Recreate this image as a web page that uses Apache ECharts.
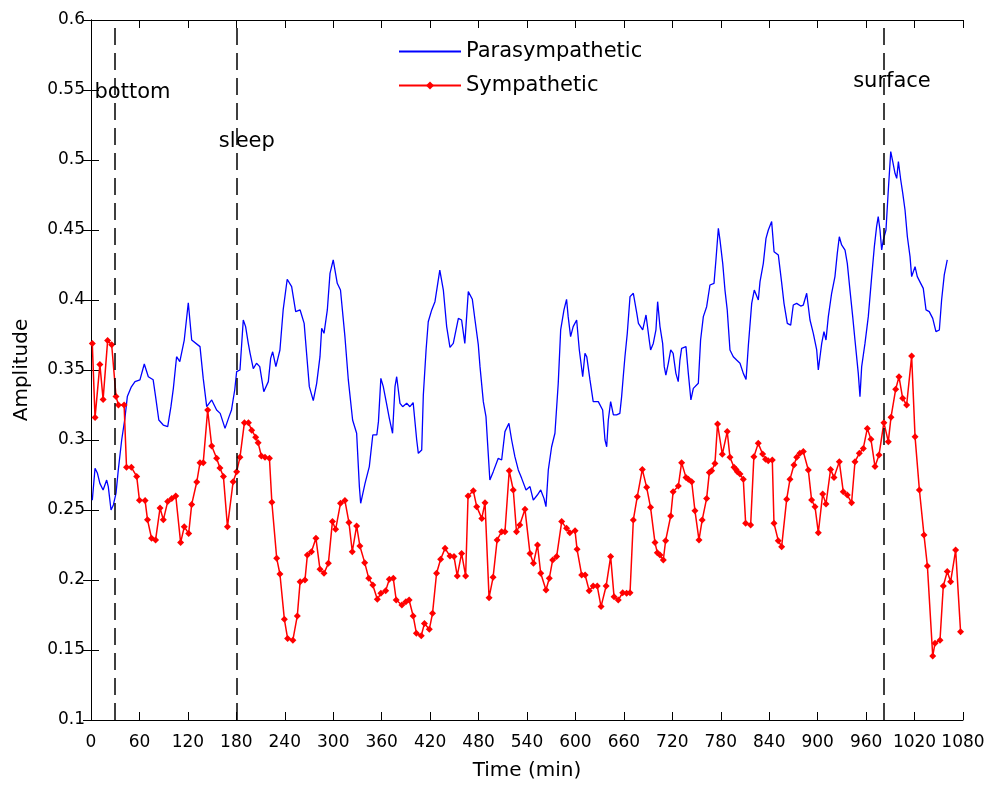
<!DOCTYPE html>
<html>
<head>
<meta charset="utf-8">
<script src="https://cdn.jsdelivr.net/npm/echarts@6/dist/echarts.min.js"></script>
<style>html,body{margin:0;padding:0;background:#fff;overflow:hidden;}#chart{width:984px;height:785px;}</style>
</head>
<body>
<div id="chart"></div>
<script>
// Time axis ticks
const xTicks = [0,60,120,180,240,300,360,420,480,540,600,660,720,780,840,900,960,1020,1080];

// Parasympathetic (blue) – time (min) and amplitude
const paraTime = [1.6,5,8,11,15,19.4,21.4,24.8,27.7,31,33.8,38,42,45,50,54.5,60.6,66,71,77,80,84,89.5,95,99,102,106,110,115.5,120.5,124.7,135,139,143.3,149.5,155.6,160,166,171,174,176,178,180.4,184.5,188.6,191.5,194.8,197,201,205,209,214,219.6,222.5,225,229,234,238,243,248.5,253.5,259,264,267,270.4,275.3,279.5,283.6,285.7,288.6,292.7,296,300,305,309,314.5,318.7,324,329,332.4,334,339.4,344.7,349,354,356,359,362,366,369.5,373.5,376.5,378.6,382.7,386,391,395,399,403.4,405.4,409.6,411.6,415,417.7,422,426,432,436.4,440.5,444.6,448.7,455,459,463,467.3,472.3,475.6,479.7,481.8,485.9,489.2,491.2,494,498.2,504.4,508.6,512.7,517.6,521,525,529.2,533.4,538.8,543.7,547.8,552.8,557,561,563.5,566.4,570.5,574.6,578.7,581.7,585.8,589,591,594,597.2,601.5,604.8,609,611.8,614,618,622,628.3,633.7,636.6,638.7,640.7,643.6,647,651,655,657.2,659.2,661.3,664.2,667.6,671.7,676,678,683.3,687.4,689,691.4,693.1,696.4,699.7,701.8,704.7,708,710,712,715,718,721,724.4,727.3,729.4,731.5,736.9,739.8,743,746,752.2,755,758.4,762.5,766.6,771.6,774,777,779,782.4,785.2,788,791.4,795.5,799.6,803.8,807.9,811.3,814.2,818.3,821.5,826.5,828.6,832.7,836,838.9,843,846,851.3,855.5,858.3,862.4,866.6,869.8,874,879,882.2,886.4,890.5,894.6,898.8,900.8,905,907.8,910.3,913.2,917.3,921.4,924.3,926.8,929.7,933.9,936.7,940,943.4,946.2,950.3,952.4,954.5,958.6,962.7,966.9,970.2,973,975,977.2,979.3,981.3,984.6,987.5,990.5,993,995.8,997.9,1000,1002.9,1005.4,1008.2,1011.1,1014.4,1016.4,1020.6,1023.4,1027.6,1030.8,1034.2,1038.2,1042.5,1046.5,1050.7,1053.5,1056.8,1060.5];
const paraValue = [.257,.2798,.2762,.269,.2643,.2714,.2667,.25,.2536,.262,.2786,.30,.3155,.331,.338,.3417,.343,.3543,.3452,.343,.331,.3143,.3107,.3095,.3238,.3369,.3595,.356,.3714,.398,.3714,.3667,.344,.3238,.3286,.3214,.319,.3083,.3167,.3214,.3286,.3357,.3488,.35,.3857,.381,.369,.362,.351,.3548,.3524,.3345,.3417,.3583,.363,.3524,.3643,.3929,.4148,.4095,.3917,.3929,.3833,.362,.3381,.3281,.3405,.3595,.3798,.3762,.3929,.419,.4286,.4119,.4071,.3738,.3429,.3143,.3048,.2667,.2548,.269,.281,.3036,.3036,.3131,.344,.3381,.3262,.3155,.3048,.3381,.3452,.3262,.3238,.3262,.3238,.3267,.30,.2905,.2929,.3321,.3643,.3845,.3929,.3988,.4214,.4071,.381,.3662,.369,.3869,.3857,.369,.406,.4005,.3857,.3679,.3524,.3274,.3167,.2976,.2714,.2774,.2869,.2857,.306,.3119,.30,.2881,.2786,.2726,.2643,.2667,.2571,.2607,.2643,.2583,.2524,.2786,.2952,.3048,.3405,.3786,.3929,.4005,.3881,.3738,.381,.3857,.3643,.3452,.3619,.3595,.3429,.3274,.3274,.3214,.30,.2952,.3143,.3274,.3179,.3179,.319,.331,.3452,.3595,.3762,.4024,.4048,.3905,.3833,.3786,.3893,.3905,.3714,.3643,.369,.3786,.3988,.381,.369,.3524,.3464,.3548,.3643,.3619,.3476,.3417,.3571,.3655,.3667,.3476,.3286,.3369,.3405,.3714,.3881,.3952,.4107,.4119,.4286,.4512,.4429,.4262,.4071,.3929,.3643,.3595,.3571,.3548,.3476,.3433,.3679,.3976,.4071,.40,.4131,.4262,.444,.45,.456,.4345,.4321,.4119,.3976,.3833,.3821,.3964,.3976,.3957,.3964,.4048,.3857,.3762,.3643,.35,.369,.3774,.3714,.3881,.4048,.4167,.4333,.4452,.4393,.4357,.4262,.4071,.3881,.3714,.3476,.331,.3524,.369,.3881,.4167,.4381,.4524,.4595,.45,.4357,.4429,.45,.4786,.506,.4988,.4905,.4869,.4988,.4857,.4762,.4643,.4452,.431,.4167,.4238,.4167,.4119,.4083,.3929,.3917,.3869,.3774,.3786,.40,.4179,.4286];

// Sympathetic (red) – time (min) and amplitude
const sympTime = [1.6,5,11,15,20.6,25.6,31,34,41,44,50,56.6,60,67,70,75,80,85.5,89.6,95,100,105,111,115.5,121,124.7,131,135,139,144.5,149.5,155.6,159.7,164,169,176,180.4,184.5,190,195,199,204,207,211,215.5,221,224,230,234,239.5,243.5,250,255.5,259,265,268,273,278.6,283.6,288.6,294,299,303,309,314.5,319.5,323.6,329,333,339,344,349,354.6,359,365,369.5,374.4,378,385,390,394,399,403,409,413,419,423,428,433,438.5,444.6,449.6,453.6,459,464,467,473.5,477.7,484,488,493,498,503,508.6,512.7,518,523,527,531,537.5,543.7,548,553,557,563.5,567.6,571.8,576.7,583,589,593,599.5,602,607.7,612,617,622,627,631.7,638,643.6,647.8,653,658.5,663.4,667.6,671.7,676.6,682.8,688.2,693,698.5,701.4,704.7,708.8,711.7,718,721,727.4,731.5,736.9,739.8,744,748,753,757,762.5,765.8,768.7,772.8,776,781.9,788,791.4,796.4,798.9,800.5,803.8,807.9,810.8,817,821,826.4,831.8,835.5,838.8,843.8,845.9,851.2,855.4,861.6,865.7,870.6,874,878,882.2,888.4,892.5,896.7,900.8,906.2,910.3,916,920.2,926.8,931.7,936.7,942,946.2,951.6,956.5,961.5,966,971,976,982,987.5,990.8,996.6,1000.7,1005.3,1010.2,1016.4,1020.6,1026,1031.7,1035.9,1042.5,1045.3,1051.5,1055.6,1060.5,1064.7,1070.9,1077];
const sympValue = [.369,.316,.354,.329,.371,.368,.331,.325,.325,.2805,.2805,.274,.257,.2567,.243,.2298,.2286,.2514,.243,.256,.2583,.26,.2267,.238,.2333,.254,.270,.2838,.2838,.3214,.2957,.287,.280,.274,.238,.2702,.2774,.2876,.3124,.3124,.307,.302,.298,.2886,.2876,.287,.2555,.2155,.2043,.1719,.1583,.157,.1743,.1988,.200,.2179,.2202,.2298,.2076,.2048,.2119,.2417,.2362,.2548,.2567,.241,.2202,.2386,.2243,.2124,.2012,.1964,.1862,.1905,.1924,.2005,.2012,.1857,.1821,.1845,.1857,.1743,.162,.1602,.169,.1648,.1762,.2048,.2148,.2226,.2171,.2167,.2029,.219,.2029,.260,.2638,.2524,.244,.2552,.1874,.2019,.2286,.2345,.2345,.278,.2643,.2345,.2393,.2505,.219,.2119,.225,.2048,.1929,.2012,.2143,.2167,.2417,.2369,.2338,.2352,.2219,.2036,.2036,.1924,.1957,.1957,.1810,.1957,.2167,.1881,.1857,.1909,.1905,.1909,.2429,.2595,.279,.2662,.2519,.2267,.2195,.2179,.2143,.2281,.2457,.2631,.2671,.2838,.2733,.2719,.2702,.2495,.2286,.2429,.2583,.2767,.278,.2833,.3114,.2898,.306,.2876,.2805,.279,.2774,.2757,.2719,.2405,.2393,.2881,.2976,.29,.2862,.2852,.2857,.2405,.2281,.2238,.2576,.2719,.2821,.2876,.2905,.2917,.2786,.2571,.2524,.2338,.2614,.2543,.279,.2733,.2845,.2631,.2607,.2552,.2845,.2905,.294,.3083,.3005,.281,.2893,.3124,.2988,.3162,.3362,.3452,.3298,.325,.36,.3024,.2643,.2321,.21,.1457,.1548,.157,.1957,.206,.1988,.2214,.1631];

// Event markers (vertical dashed lines) and their labels
const eventTimes = [30, 180, 982];
const annotText = ['bottom', 'sleep', 'surface'];
const annotTime = [51.4, 193, 992];
const annotValue = [0.548, 0.513, 0.5557];

const FONT = 'DejaVu Sans';
const pair = (t, v) => t.map((x, i) => [x, v[i]]);

const chart = echarts.init(document.getElementById('chart'));
const axisLineStyle = { color: '#000', width: 1 };
const option = {
  animation: false,
  backgroundColor: '#fff',
  grid: { left: 91, right: 21, top: 20, bottom: 65, containLabel: false, outerBoundsMode: 'none' },
  legend: {
    data: [
      { name: 'Parasympathetic', itemStyle: { opacity: 0 } },
      { name: 'Sympathetic' }
    ],
    orient: 'vertical',
    left: 393, top: 36,
    itemWidth: 62, itemHeight: 10, itemGap: 13,
    textStyle: { fontFamily: FONT, fontSize: 21, color: '#000' }
  },
  xAxis: [{
    type: 'value', min: 0, max: 1080, interval: 60,
    name: 'Time (min)', nameLocation: 'middle', nameGap: 41,
    nameTextStyle: { fontFamily: FONT, fontSize: 20, color: '#000' },
    axisLine: { show: true, lineStyle: axisLineStyle },
    axisTick: { show: true, inside: true, length: 8, lineStyle: axisLineStyle },
    axisLabel: { fontFamily: FONT, fontSize: 17, color: '#000', margin: 14,
                 showMinLabel: true, showMaxLabel: true, hideOverlap: false,
                 formatter: v => String(v) },
    splitLine: { show: false }
  }, {
    type: 'value', min: 0, max: 1080, interval: 60, position: 'top',
    axisLine: { show: true, lineStyle: axisLineStyle },
    axisTick: { show: true, inside: true, length: 8, lineStyle: axisLineStyle },
    axisLabel: { show: false }, splitLine: { show: false }
  }],
  yAxis: [{
    type: 'value', min: 0.1, max: 0.6, interval: 0.05,
    name: 'Amplitude', nameLocation: 'middle', nameGap: 59,
    nameTextStyle: { fontFamily: FONT, fontSize: 20, color: '#000' },
    axisLine: { show: true, lineStyle: axisLineStyle },
    axisTick: { show: true, inside: true, length: 8, lineStyle: axisLineStyle },
    axisLabel: { fontFamily: FONT, fontSize: 17, color: '#000', margin: 6 },
    splitLine: { show: false }
  }, {
    type: 'value', min: 0.1, max: 0.6, interval: 0.05, position: 'right',
    axisLine: { show: true, lineStyle: axisLineStyle },
    axisTick: { show: true, inside: true, length: 8, lineStyle: axisLineStyle },
    axisLabel: { show: false }, splitLine: { show: false }
  }],
  series: [{
    name: 'Parasympathetic', type: 'line',
    data: pair(paraTime, paraValue),
    symbol: 'none', showSymbol: false,
    lineStyle: { color: '#0000ff', width: 1.3 },
    itemStyle: { color: '#0000ff' }
  }, {
    name: 'Sympathetic', type: 'line',
    data: pair(sympTime, sympValue),
    symbol: 'diamond', symbolSize: 7, showSymbol: true,
    lineStyle: { color: '#ff0000', width: 1.5 },
    itemStyle: { color: '#ff0000' },
    markLine: {
      silent: true, symbol: ['none', 'none'],
      label: { show: false },
      lineStyle: { color: '#000', width: 1.5, type: [17, 8] },
      data: eventTimes.map(t => ({ xAxis: t }))
    }
  }, {
    name: 'annotations', type: 'scatter',
    data: annotTime.map((t, i) => ({ value: [t, annotValue[i]], name: annotText[i] })),
    symbolSize: 0,
    itemStyle: { color: '#000', opacity: 1 },
    label: {
      show: true, position: 'inside', formatter: p => p.name,
      fontFamily: FONT, fontSize: 21, color: '#000', opacity: 1,
      textBorderWidth: 0, textBorderColor: 'transparent'
    },
    silent: true
  }]
};
chart.setOption(option);
</script>
</body>
</html>
